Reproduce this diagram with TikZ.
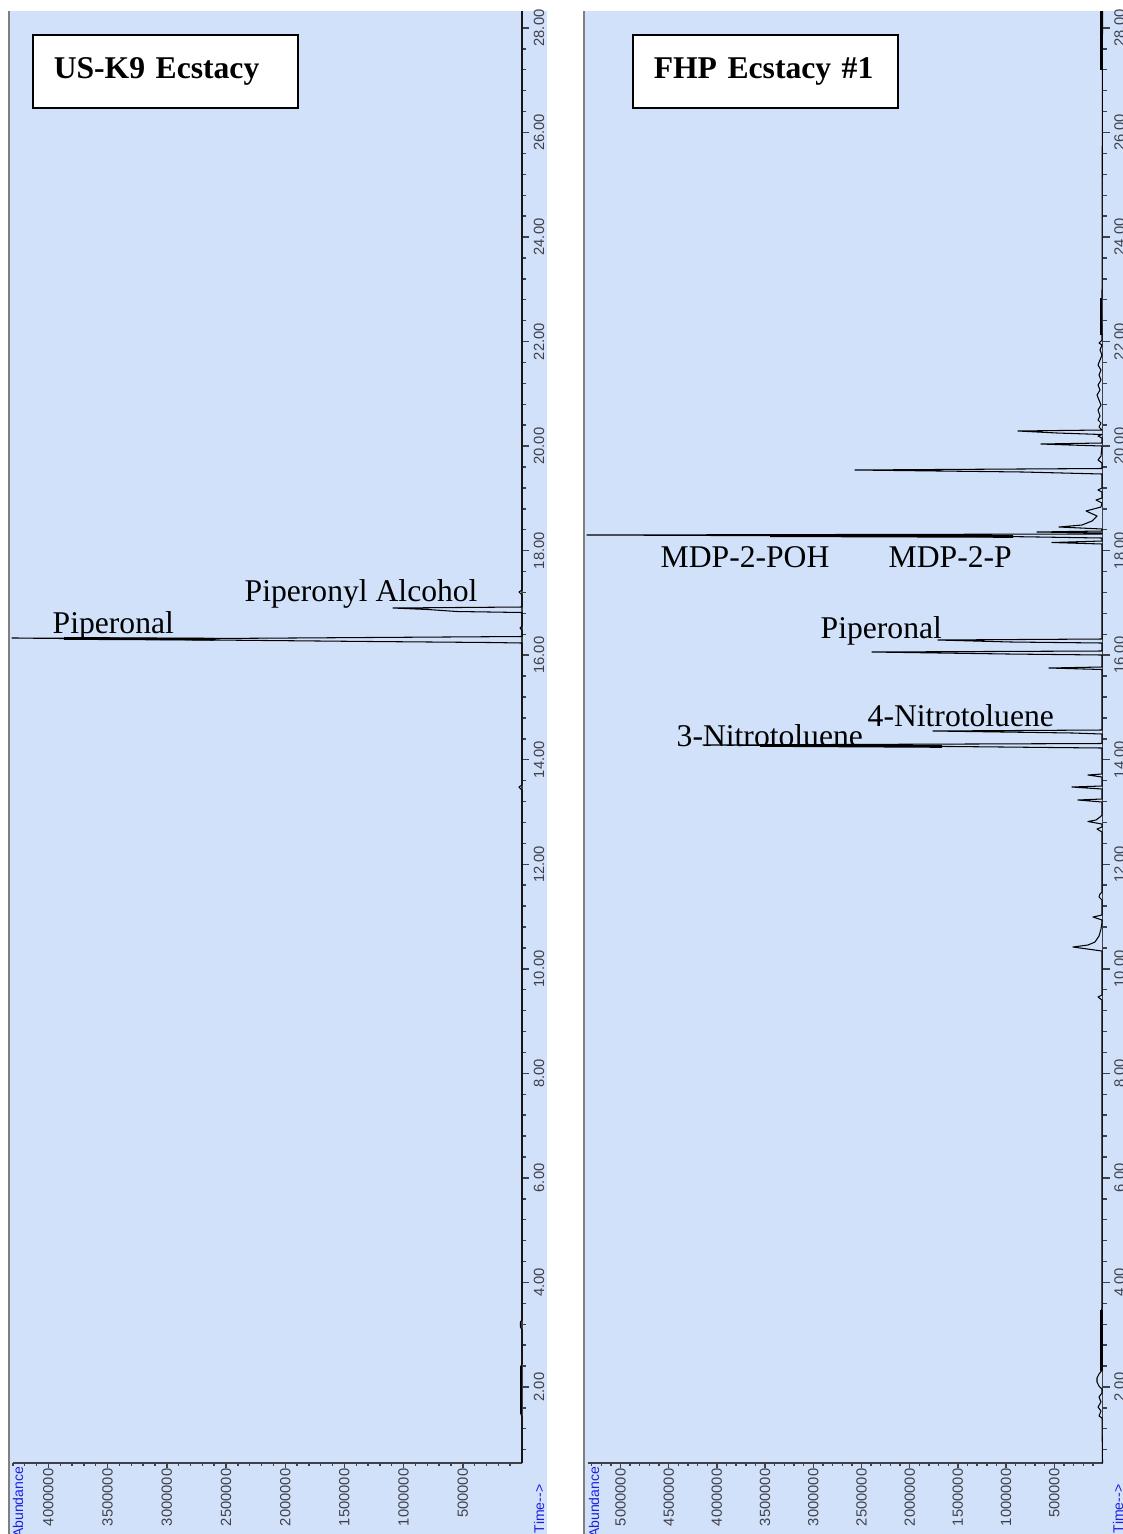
\documentclass[tikz,border=0pt]{standalone}
\usepackage{fontspec}
\setmainfont{Liberation Serif}
\setsansfont{Liberation Sans}
\definecolor{plotbg}{RGB}{209,225,250}
\definecolor{axisgray}{RGB}{64,64,72}
\definecolor{labelblue}{RGB}{30,30,225}
\definecolor{edgegray}{RGB}{128,128,128}

\begin{document}
\begin{tikzpicture}[x=0.1mm, y=-0.1mm,
  % Plot styles
  panel/.style={fill=plotbg, draw=none},
  edge/.style={draw=edgegray, line width=0.35pt},
  axisline/.style={draw=axisgray, line width=0.4pt},
  trace/.style={draw=black, line width=0.3pt, line join=round},
  heavy/.style={draw=black, line width=0.8pt},
  ticklab/.style={font=\sffamily\fontsize{4.2}{4.2}\selectfont, text=axisgray,
    rotate=90, inner sep=0pt},
  axlab/.style={font=\sffamily\fontsize{4}{4}\selectfont, text=labelblue,
    rotate=90, inner sep=0pt, anchor=east},
  titlebox/.style={draw=black, fill=white, line width=0.6pt, anchor=north west,
    text width=22.3mm, inner xsep=2.1mm, minimum height=7.3mm, align=left,
    font=\bfseries\fontsize{9}{10}\selectfont},
  peaklab/.style={font=\fontsize{9}{10}\selectfont, inner sep=0pt, anchor=base west},
]

% === Panel positions (time axes) ===
\def\axL{522}
\def\axR{1102.5}

\useasboundingbox (0,0) rectangle (1123,1534);
\fill[white] (0,0) rectangle (1123,1534);

% === Backgrounds ===
\fill[panel] (9,11) rectangle (547,1534);
\fill[panel] (584,11) rectangle (1123,1534);
\draw[edge] (9,11) -- (9,1534);
\draw[edge] (584,11) -- (584,1534);

% === Time axes ===
\draw[axisline] (\axL,11) -- (\axL,1463);
\draw[axisline] (\axR,11) -- (\axR,1463);
\foreach \ax/\sd in {\axL/L,\axR/R} {
  \foreach \i in {2,...,70} {
    \pgfmathsetmacro\ty{1491.5-20.908*\i}
    \pgfmathsetmacro\tl{ifthenelse(mod(\i,5)==0,7,4)}
    \draw[axisline] (\ax,\ty) -- ++(\tl,0);
  }
  \foreach \m in {2,4,...,28} {
    \node[ticklab] (time\sd\m) at ({\ax+17},{1491.5-52.27*\m}) {\m.00};
  }
}

% === Abundance axes ===
\draw[axisline] (13,1463) -- (\axL,1463);
\draw[axisline] (588,1463) -- (\axR,1463);
\foreach \k in {1,...,43} {
  \pgfmathsetmacro\tl{ifthenelse(mod(\k,5)==0,5,3)}
  \draw[axisline] ({\axL-11.84*\k},1463) -- ++(0,\tl);
}
\foreach \k in {1,...,53} {
  \pgfmathsetmacro\tl{ifthenelse(mod(\k,5)==0,5,3)}
  \draw[axisline] ({\axR-9.64*\k},1463) -- ++(0,\tl);
}
\foreach \k/\v in {5/500000,10/1000000,15/1500000,20/2000000,25/2500000,
    30/3000000,35/3500000,40/4000000} {
  \node[ticklab, anchor=east] (abL\k) at ({\axL-11.84*\k},1468) {\v};
}
\foreach \k/\v in {5/500000,10/1000000,15/1500000,20/2000000,25/2500000,
    30/3000000,35/3500000,40/4000000,45/4500000,50/5000000} {
  \node[ticklab, anchor=east] (abR\k) at ({\axR-9.64*\k},1468) {\v};
}
\node[axlab] (abundL) at (18,1466) {Abundance};
\node[axlab] (abundR) at (594,1466) {Abundance};
\node[axlab] (timeL) at (539,1484) {Time-{}->};
\node[axlab] (timeR) at (1118,1484) {Time-{}->};

% === Left trace: US-K9 ===
\draw[trace] (\axL,1463) -- (522,1417) -- (521,1414) -- (521,1366) -- (522,1364)
  -- (522,1330) -- (520.5,1327) -- (520.5,1322) -- (522,1320)
  -- (522,790) -- (519,787) -- (522,785)
  -- (522,643) -- (490,642.5) -- (371,641.5) -- (214,640) -- (12,638)
  -- (214,638.5) -- (522,636.5)
  -- (522,630) -- (520,628) -- (522,626)
  -- (522,612.5) -- (457,611.5) -- (428,609.5) -- (393,608) -- (522,607)
  -- (522,595) -- (519,592) -- (522,590) -- (\axL,11);
\draw[heavy] (521,1414) -- (521,1366);
\draw[heavy] (64,638.4) -- (214,639.2);

% === Right trace: FHP #1 ===
\draw[trace] (\axR,1463) -- (1102,1418) -- (1099,1416) -- (1101,1411) -- (1098,1407)
  -- (1101,1402) -- (1099,1397) -- (1102,1393) -- (1102,1389)
  -- (1099,1386) -- (1097,1382) -- (1097,1378) -- (1099,1374) -- (1101.5,1371)
  -- (1101.5,1310) -- (1102,1308)
  -- (1102,1000) -- (1098,997) -- (1102,995)
  -- (1102,951) -- (1073,947) -- (1088,945) -- (1095,942) -- (1099,936)
  -- (1101,929) -- (1102,922)
  -- (1102,920) -- (1093,917) -- (1102,915)
  -- (1102,900) -- (1099,897) -- (1100,894) -- (1102,892)
  -- (1102,832) -- (1097,829) -- (1102,827)
  -- (1102,824) -- (1088,821.5) -- (1096,820) -- (1100,817) -- (1102,815)
  -- (1102,802) -- (1078,800) -- (1102,799)
  -- (1102,789) -- (1072,787) -- (1102,786)
  -- (1102,777) -- (1088,775) -- (1102,774)
  -- (1102,748) -- (952,746.5) -- (703,745) -- (1102,743.5)
  -- (1102,734) -- (1073,733) -- (933,731) -- (1102,730)
  -- (1102,669.5) -- (1049,668) -- (1102,667)
  -- (1102,655) -- (1008,654) -- (872,652) -- (1102,651)
  -- (1102,643) -- (1011,642) -- (938,640) -- (1102,639)
  -- (1102,544) -- (1052,542.5) -- (1102,541)
  -- (1102,538) -- (1013,536.6) -- (587,535) -- (1102,534)
  -- (1102,533) -- (1037,532) -- (1102,531)
  -- (1102,529) -- (1059,527) -- (1082,525) -- (1092,521) -- (1097,516)
  -- (1086,511) -- (1101,507)
  -- (1102,503) -- (1096,500) -- (1102,498)
  -- (1102,492) -- (1098,490) -- (1102,488)
  -- (1102,474) -- (1023,472) -- (855,470) -- (1102,468.5)
  -- (1102,463) -- (1098,460) -- (1101,456)
  -- (1102,446) -- (1070,445) -- (1041,444) -- (1102,443)
  -- (1102,438) -- (1098,436) -- (1102,434.5) -- (1057,433) -- (1018,431) -- (1102,430)
  -- (1099,427) -- (1101,423) -- (1098,420) -- (1100,416) -- (1098,410)
  -- (1101,405) -- (1099,400) -- (1097,395) -- (1100,390) -- (1098,385)
  -- (1101,380) -- (1099,375) -- (1101,370) -- (1098,365) -- (1100,360)
  -- (1102,355) -- (1100,350) -- (1102,345) -- (1099,343) -- (1102,340)
  -- (1102,335) -- (1101,300) -- (1102,298) -- (\axR,11);
\draw[heavy] (1101.5,1371) -- (1101.5,1310);
\draw[heavy] (1101,335) -- (1101,298);
\draw[heavy] (1101.5,70) -- (1101.5,11);
\draw[heavy] (760,745.4) -- (942,746.4);
\draw[heavy] (770,535.6) -- (1013,536.4);

% === Title boxes ===
\node[titlebox] (k9title) at (31.7,34.3) {US-K9 Ecstacy};
\node[titlebox] (fhptitle) at (631.7,34.3) {FHP Ecstacy \#1};

% === Peak labels ===
\node[peaklab] (piperonalL) at (52,633) {Piperonal};
\node[peaklab] (pipalcohol) at (244,601) {Piperonyl Alcohol};
\node[peaklab] (mdppoh) at (660,567) {MDP-2-POH};
\node[peaklab] (mdpp) at (888,567) {MDP-2-P};
\node[peaklab] (piperonalR) at (820,638) {Piperonal};
\node[peaklab] (nitro4) at (867,726) {4-Nitrotoluene};
\node[peaklab] (nitro3) at (676,746) {3-Nitrotoluene};

\end{tikzpicture}
\end{document}
